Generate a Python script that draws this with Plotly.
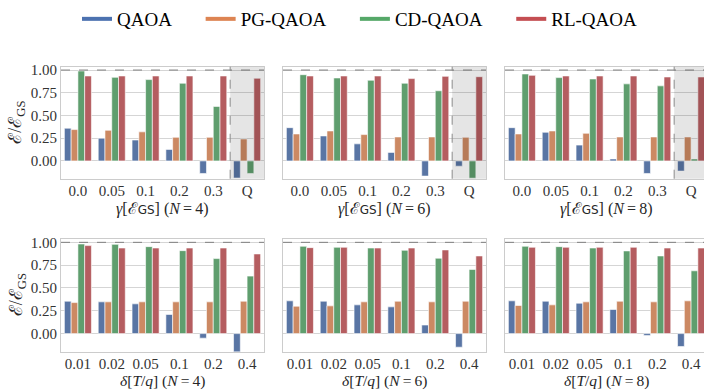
import plotly.graph_objects as go

# ---------------- data ----------------
methods = ["QAOA", "PG-QAOA", "CD-QAOA", "RL-QAOA"]
gamma_cats = ["0.0", "0.05", "0.1", "0.2", "0.3", "Q"]
delta_cats = ["0.01", "0.02", "0.05", "0.1", "0.2", "0.4"]
n_values = [4, 6, 8]

# gamma sweep (top row)
qaoa_g4 = [0.360, 0.250, 0.230, 0.127, -0.138, -0.188]
pg_g4 = [0.345, 0.337, 0.320, 0.260, 0.260, 0.242]
cd_g4 = [0.990, 0.920, 0.895, 0.855, 0.600, -0.138]
rl_g4 = [0.935, 0.935, 0.935, 0.935, 0.935, 0.910]

qaoa_g6 = [0.366, 0.275, 0.188, 0.094, -0.167, -0.058]
pg_g6 = [0.297, 0.330, 0.290, 0.264, 0.264, 0.260]
cd_g6 = [0.949, 0.913, 0.888, 0.855, 0.772, -0.190]
rl_g6 = [0.935, 0.935, 0.935, 0.906, 0.931, 0.927]

qaoa_g8 = [0.366, 0.315, 0.174, 0.022, -0.138, -0.112]
pg_g8 = [0.297, 0.330, 0.304, 0.264, 0.264, 0.264]
cd_g8 = [0.957, 0.917, 0.902, 0.848, 0.826, 0.022]
rl_g8 = [0.942, 0.935, 0.935, 0.935, 0.924, 0.924]

# delta sweep (bottom row)
qaoa_d4 = [0.355, 0.348, 0.326, 0.210, -0.050, -0.250]
pg_d4 = [0.340, 0.348, 0.348, 0.348, 0.348, 0.355]
cd_d4 = [0.982, 0.978, 0.953, 0.909, 0.822, 0.630]
rl_d4 = [0.964, 0.938, 0.938, 0.938, 0.938, 0.873]

qaoa_d6 = [0.359, 0.355, 0.315, 0.293, 0.094, -0.149]
pg_d6 = [0.300, 0.304, 0.348, 0.355, 0.348, 0.355]
cd_d6 = [0.957, 0.946, 0.938, 0.913, 0.826, 0.703]
rl_d6 = [0.942, 0.946, 0.938, 0.938, 0.917, 0.851]

qaoa_d8 = [0.359, 0.355, 0.333, 0.264, -0.022, -0.141]
pg_d8 = [0.308, 0.315, 0.348, 0.355, 0.348, 0.359]
cd_d8 = [0.957, 0.953, 0.938, 0.906, 0.851, 0.688]
rl_d8 = [0.946, 0.946, 0.946, 0.946, 0.938, 0.938]

yticks = [0.0, 0.25, 0.5, 0.75, 1.0]

# ---------------- styling ----------------
bar_colors = ["#5975a4", "#cc8963", "#5f9e6e", "#b55d60"]
legend_colors = ["#4C72B0", "#DD8452", "#55A868", "#C44E52"]
FONT = "'Liberation Serif', 'Times New Roman', serif"
W, H = 704, 390

panels = [
    (gamma_cats, [qaoa_g4, pg_g4, cd_g4, rl_g4]),
    (gamma_cats, [qaoa_g6, pg_g6, cd_g6, rl_g6]),
    (gamma_cats, [qaoa_g8, pg_g8, cd_g8, rl_g8]),
    (delta_cats, [qaoa_d4, pg_d4, cd_d4, rl_d4]),
    (delta_cats, [qaoa_d6, pg_d6, cd_d6, rl_d6]),
    (delta_cats, [qaoa_d8, pg_d8, cd_d8, rl_d8]),
]

col_px = [(61, 264), (283, 486), (505, 704)]
row_px = [(62.5, 176), (237, 351)]
px_per_cat = 203 / 6.0

fig = go.Figure()

for i, (cats, series) in enumerate(panels):
    ax = "" if i == 0 else str(i + 1)
    for m, vals, col in zip(methods, series, bar_colors):
        fig.add_trace(go.Bar(
            x=cats, y=vals, name=m, marker_color=col,
            marker_line=dict(color="white", width=0.6),
            xaxis="x" + ax, yaxis="y" + ax, showlegend=False,
        ))

# legend entries as line handles
for m, col in zip(methods, legend_colors):
    label = m + ("\u00a0" * 5 if m != methods[-1] else "")
    fig.add_trace(go.Scatter(
        x=[None], y=[None], mode="lines", name=label,
        line=dict(color=col, width=4), xaxis="x", yaxis="y",
    ))

layout = dict(
    width=W, height=H,
    margin=dict(l=0, r=0, t=0, b=0),
    paper_bgcolor="white", plot_bgcolor="white",
    barmode="group", bargap=0.2, bargroupgap=0.0,
    font=dict(family=FONT, size=15, color="#262626"),
    legend=dict(
        orientation="h", x=77 / W, xanchor="left", y=1 - 14 / H, yanchor="middle",
        font=dict(family=FONT, size=19, color="black"),
        bgcolor="rgba(0,0,0,0)", tracegroupgap=0,
    ),
    showlegend=True,
)

shapes = []
annotations = []
for i in range(6):
    r, c = divmod(i, 3)
    ax = "" if i == 0 else str(i + 1)
    xl, xr = col_px[c]
    yt, yb = row_px[r]
    xmax = -0.5 + (xr - xl) / px_per_cat
    layout["xaxis" + ax] = dict(
        domain=[xl / W, xr / W], anchor="y" + ax,
        type="category", range=[-0.5, xmax],
        showgrid=False, zeroline=False,
        showline=True, mirror=True, linecolor="#cccccc", linewidth=1,
        ticks="", ticklabelstandoff=-2,
        tickfont=dict(family=FONT, size=15, color="#333333"),
    )
    layout["yaxis" + ax] = dict(
        domain=[1 - yb / H, 1 - yt / H], anchor="x" + ax,
        range=[-0.196, 1.037],
        tickvals=yticks, tickformat=".2f",
        showticklabels=(c == 0),
        showgrid=True, gridcolor="#d5d5d5", gridwidth=1,
        zeroline=False,
        showline=True, mirror=True, linecolor="#cccccc", linewidth=1,
        ticks="", tickfont=dict(family=FONT, size=15, color="#333333"),
    )
    # dashed reference at 1.0
    shapes.append(dict(
        type="line", xref="x" + ax + " domain", yref="y" + ax,
        x0=0, x1=1, y0=1.0, y1=1.0,
        line=dict(color="#808080", width=1, dash="dash"), layer="above",
    ))
    if r == 0:
        # shaded "Q" region
        shapes.append(dict(
            type="rect", xref="x" + ax, yref="y" + ax + " domain",
            x0=4.5, x1=5.5, y0=0, y1=1,
            fillcolor="rgba(0,0,0,0.10)", line=dict(width=0), layer="above",
        ))
        shapes.append(dict(
            type="line", xref="x" + ax, yref="y" + ax + " domain",
            x0=4.5, x1=4.5, y0=0, y1=1,
            line=dict(color="#8a8a8a", width=1, dash="dash"), layer="above",
        ))
        title = ("<i>γ</i>[ℰ<span style='font-family:DejaVu Sans;font-size:12px'>GS</span>]"
                 " (<i>N</i>\u2009=\u2009%d)" % n_values[c])
        ty = 207
    else:
        title = "<i>δ</i>[<i>T</i>/<i>q</i>] (<i>N</i>\u2009=\u2009%d)" % n_values[c]
        ty = 381
    annotations.append(dict(
        text=title, xref="x" + ax, yref="paper", x=2.5, y=1 - ty / H,
        xanchor="center", yanchor="middle", showarrow=False,
        font=dict(family=FONT, size=16 if r == 0 else 15.5, color="#262626"),
    ))
    if c == 0:
        annotations.append(dict(
            text="ℰ/ℰ<sub>GS</sub>", xref="paper", yref="paper",
            x=17 / W, y=1 - (yt + yb) / 2 / H, textangle=-90,
            xanchor="center", yanchor="middle", showarrow=False,
            font=dict(family=FONT, size=18, color="#262626"),
        ))

layout["shapes"] = shapes
layout["annotations"] = annotations
fig.update_layout(**layout)

fig.write_html(
    "out.html",
    config={"displayModeBar": False},
    post_script="document.body.style.margin='0';document.body.style.overflow='hidden';",
)
